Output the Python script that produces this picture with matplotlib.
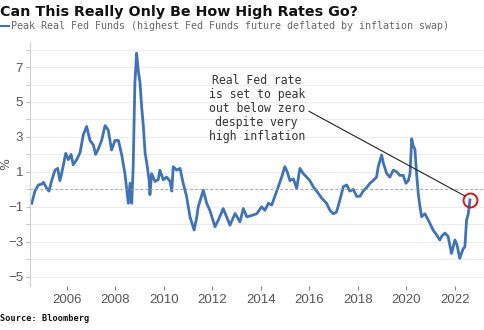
import matplotlib
matplotlib.use("Agg")
import matplotlib.pyplot as plt
import numpy as np

# Peak real Fed Funds (%)
years = [
    2004.56, 2004.69, 2004.83, 2004.97, 2005.04, 2005.18, 2005.27, 2005.38, 2005.52, 2005.63,
    2005.72, 2005.79, 2005.96, 2006.07, 2006.18, 2006.27, 2006.41, 2006.55, 2006.68, 2006.82,
    2006.96, 2007.10, 2007.19, 2007.30, 2007.44, 2007.58, 2007.71, 2007.85, 2007.99, 2008.13,
    2008.27, 2008.40, 2008.54, 2008.61, 2008.68, 2008.74, 2008.81, 2008.88, 2008.95, 2009.02,
    2009.09, 2009.16, 2009.23, 2009.30, 2009.40, 2009.43, 2009.50, 2009.64, 2009.77, 2009.84,
    2009.98, 2010.12, 2010.26, 2010.33, 2010.39, 2010.53, 2010.67, 2010.80, 2010.94, 2011.08,
    2011.25, 2011.36, 2011.42, 2011.63, 2011.77, 2011.90, 2012.11, 2012.25, 2012.45, 2012.59,
    2012.73, 2012.94, 2013.14, 2013.28, 2013.42, 2013.62, 2013.83, 2014.03, 2014.17, 2014.31,
    2014.45, 2014.58, 2014.72, 2014.86, 2014.99, 2015.09, 2015.20, 2015.34, 2015.48, 2015.61,
    2015.75, 2015.89, 2016.02, 2016.16, 2016.37, 2016.51, 2016.71, 2016.85, 2016.99, 2017.12,
    2017.26, 2017.40, 2017.54, 2017.67, 2017.81, 2017.95, 2018.09, 2018.22, 2018.36, 2018.50,
    2018.63, 2018.77, 2018.84, 2018.98, 2019.05, 2019.19, 2019.32, 2019.46, 2019.60, 2019.73,
    2019.87, 2019.98, 2020.08, 2020.15, 2020.22, 2020.28, 2020.35, 2020.42, 2020.49, 2020.56,
    2020.63, 2020.76, 2020.83, 2020.97, 2021.10, 2021.24, 2021.38, 2021.45, 2021.59, 2021.72,
    2021.86, 2022.00, 2022.09, 2022.20, 2022.34, 2022.41, 2022.48, 2022.55, 2022.62,
]
real_rate = [
    -0.8, -0.1, 0.25, 0.3, 0.4, 0.05, -0.1, 0.5, 1.1, 1.2,
    0.5, 0.9, 2.06, 1.7, 2.0, 1.4, 1.7, 2.1, 3.1, 3.6,
    2.8, 2.54, 2.0, 2.3, 2.8, 3.65, 3.4, 2.25, 2.8, 2.8,
    1.95, 0.9, -0.8, 0.35, -0.8, 1.3, 6.07, 7.8, 6.8, 6.1,
    4.7, 3.6, 2.1, 1.5, 0.5, -0.3, 0.9, 0.45, 0.55, 1.1,
    0.55, 0.7, 0.45, -0.1, 1.3, 1.1, 1.2, 0.35, -0.4, -1.57,
    -2.33, -1.6, -1.0, -0.05, -0.8, -1.2, -2.14, -1.76, -1.1, -1.57,
    -2.05, -1.38, -1.86, -1.1, -1.57, -1.5, -1.4, -1.0, -1.2, -0.8,
    -0.9, -0.4, 0.15, 0.7, 1.3, 1.0, 0.5, 0.6, 0.05, 1.2,
    0.9, 0.7, 0.5, 0.15, -0.23, -0.5, -0.8, -1.2, -1.4, -1.3,
    -0.6, 0.15, 0.25, -0.1, 0.0, -0.4, -0.4, -0.1, 0.1, 0.35,
    0.5, 0.7, 1.3, 1.97, 1.5, 0.9, 0.7, 1.1, 1.0, 0.8,
    0.8, 0.35, 0.5, 0.9, 2.9, 2.5, 2.3, 0.9, -0.25, -1.0,
    -1.57, -1.4, -1.57, -1.95, -2.33, -2.6, -2.9, -2.7, -2.5, -2.7,
    -3.67, -2.9, -3.2, -3.95, -3.4, -3.3, -1.76, -1.4, -0.6,
]
x_ticks = [2006, 2008, 2010, 2012, 2014, 2016, 2018, 2020, 2022]
y_ticks = [-5, -3, -1, 1, 3, 5, 7]

LINE_BLUE = "#3f73b5"
GREY = "#555555"

fig = plt.figure(figsize=(4.85, 3.3), dpi=100)
ax = fig.add_axes([0.062, 0.133, 0.938, 0.74])

ax.plot(years, real_rate, color=LINE_BLUE, linewidth=2.0, solid_joinstyle="round")
ax.axhline(0, color="#9a9a9a", linewidth=0.6, linestyle=(0, (3, 3)))

# circle round the latest reading
ax.plot(years[-1], real_rate[-1], marker="o", markersize=10, mfc="none",
        mec="#d0161c", mew=1.4)

ax.annotate(
    "Real Fed rate\nis set to peak\nout below zero\ndespite very\nhigh inflation",
    xy=(2022.41, -0.38), xytext=(2013.83, 4.6),
    ha="center", va="center", fontsize=8.3, family="DejaVu Sans Mono",
    color="#333333", linespacing=1.1,
    arrowprops=dict(arrowstyle="-", color="#222222", linewidth=0.8,
                    relpos=(1.0, 0.5), shrinkA=1, shrinkB=0),
)

ax.set_xlim(2004.49, 2023.24)
ax.set_ylim(-5.54, 8.44)
ax.set_xticks(x_ticks)
ax.set_yticks(y_ticks)
ax.set_yticks(np.arange(-5, 9), minor=True)
ax.grid(True, which="both", axis="y", color="#ececec", linewidth=0.8)
ax.set_axisbelow(True)

for side in ("top", "right", "bottom"):
    ax.spines[side].set_visible(False)
ax.spines["left"].set_color("#d0d0d0")

ax.tick_params(axis="x", length=3, color="#888888", labelsize=9.5,
               labelcolor=GREY, pad=3)
ax.tick_params(axis="y", which="both", length=3, color="#bbbbbb",
               labelsize=9.5, labelcolor=GREY, pad=2)
for lab in ax.get_xticklabels() + ax.get_yticklabels():
    lab.set_family("Liberation Sans")
ax.set_ylabel("%", fontsize=9, color=GREY)
ax.yaxis.set_label_coords(-0.04, 0.5)

fig.text(0.001, 0.985, "Can This Really Only Be How High Rates Go?",
         ha="left", va="top", fontsize=10.3, fontweight="bold", color="#111111")

handle, = ax.plot([], [], color=LINE_BLUE, linewidth=1.5)
fig.legend([handle],
           ["Peak Real Fed Funds (highest Fed Funds future deflated by inflation swap)"],
           loc="center left", bbox_to_anchor=(-0.012, 0.921), frameon=False,
           handlelength=1.0, handletextpad=0.2, borderpad=0,
           prop={"family": "DejaVu Sans Mono", "size": 7.2}, labelcolor="#666666")

fig.text(0.0, 0.036, "Source: Bloomberg", ha="left", va="center",
         fontsize=6.2, family="DejaVu Sans Mono", fontweight="bold", color="#111111")

fig.savefig("out.png", dpi=100)
